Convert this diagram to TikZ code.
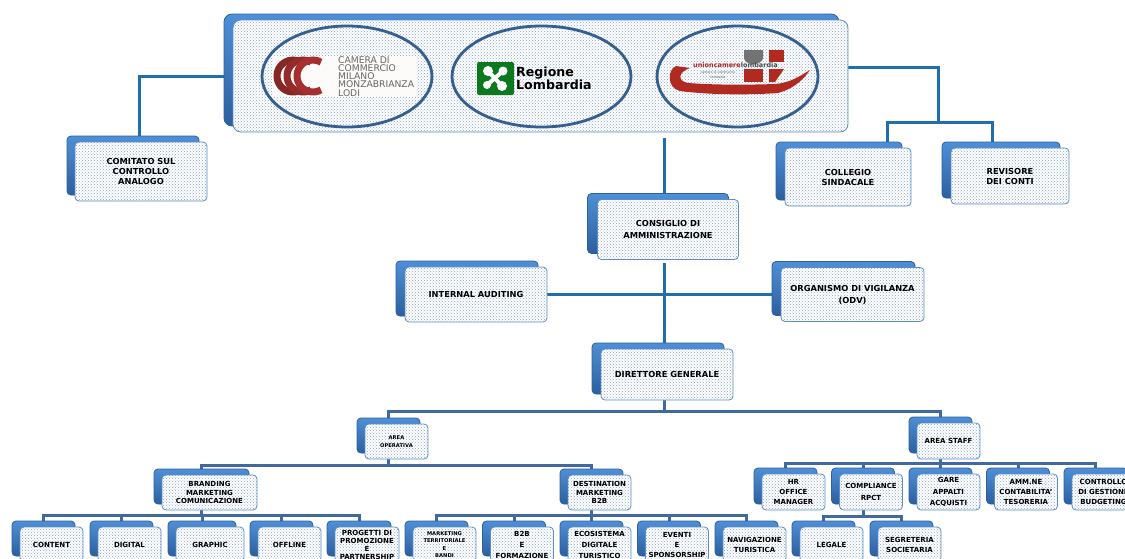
\documentclass[tikz,border=0pt]{standalone}
\usepackage{fontspec}
\setmainfont{DejaVu Sans}
\usetikzlibrary{positioning}
\usetikzlibrary{shapes.geometric}
\usetikzlibrary{shadows}
\usetikzlibrary{patterns}
\usetikzlibrary{backgrounds}
\definecolor{cardline}{HTML}{5B8FC8}
\definecolor{cardtop}{HTML}{4F8FD6}
\definecolor{cardlow}{HTML}{2C5F9E}
\definecolor{dotty}{HTML}{8CA5C6}
\definecolor{mainblue}{HTML}{1F6EAE}
\definecolor{treeblue}{HTML}{41699F}
\definecolor{ringblue}{HTML}{365F91}
\definecolor{cccred}{HTML}{A5302F}
\definecolor{lomgreen}{HTML}{0B7A1E}
\definecolor{ucred}{HTML}{B02A20}
\tikzset{card/.style={copy shadow={shadow xshift=-#1pt,shadow yshift=6pt,top color=cardtop,bottom color=cardlow,draw=cardlow,opacity=1},
preaction={fill=white},pattern=crosshatch dots,pattern color=dotty,draw=cardline,line width=.8pt,
rounded corners=4pt,inner sep=0pt,outer sep=0pt,align=center}, card/.default=9}
\tikzset{txa/.style={font=\fontsize{8.3}{12}\selectfont\bfseries}}
\tikzset{txb/.style={font=\fontsize{8.3}{10}\selectfont\bfseries}}
\tikzset{txc/.style={font=\fontsize{7}{10}\selectfont\bfseries}}
\tikzset{txd/.style={font=\fontsize{5.2}{7.5}\selectfont\bfseries}}
\tikzset{ring/.style={draw=ringblue,ellipse,line width=2.8pt,inner sep=0pt}}
\tikzset{mainline/.style={draw=mainblue,line width=3pt}}
\tikzset{treeline/.style={draw=treeblue,line width=3pt}}
\begin{document}
\begin{tikzpicture}[x=1pt,y=-1pt]
\path[use as bounding box,clip] (0,0) rectangle (1125,558);

\node [card=9,minimum width=615pt,minimum height=112pt,rounded corners=8pt] (top) at(540.5,76) {};
\node [ring,minimum width=170pt,minimum height=101pt] (camera) at(347,76.5) {};
\node [ring,minimum width=179pt,minimum height=101pt] (regione) at(541.5,76.5) {};
\node [ring,minimum width=161pt,minimum height=101pt] (unione) at(737.5,76.5) {};

% camera logo
\fill [white!97!brown] (272,56) rectangle (416,97);
\draw [cccred!80!black,line width=7pt] (293,76) ++(60:16) arc[start angle=60,end angle=300,radius=16];
\draw [cccred!90!black,line width=7pt] (303,76) ++(60:16) arc[start angle=60,end angle=300,radius=16];
\draw [cccred,line width=7pt] (313,76) ++(60:16) arc[start angle=60,end angle=300,radius=16];
\node [anchor=west,inner sep=0pt,align=left,text=black!60,font=\fontsize{9.2}{8.1}\selectfont] (cameratxt) at(338,76.5)
{CAMERA DI\\COMMERCIO\\MILANO\\MONZABRIANZA\\LODI};

% regione logo
\fill [lomgreen,rounded corners=2pt] (477,62) rectangle (514,95);
\draw [white,line width=4pt] (488,71) -- (502,86) (503,71) -- (487,85);
\fill [white] (488,71) circle (5) (503,71) circle (4.5) (487,85) circle (4) (502,86) circle (5);
\node [anchor=west,inner sep=0pt,align=left,font=\fontsize{12.6}{12}\selectfont\bfseries] (regionetxt) at(516,78)
{Regione\\Lombardia};

% unione logo
\fill [ucred] (676,66) .. controls (667,70) and (667,88) .. (680,91) .. controls (710,95) and (750,95) .. (778,93)
.. controls (790,90) and (802,82) .. (810,70) .. controls (800,76) and (790,83) .. (775,84)
.. controls (745,85) and (715,85) .. (688,83) .. controls (677,81) and (678,72) .. (690,68) -- cycle;
\fill [ucred] (744,69) rectangle (763,82);
\fill [ucred] (769,50) -- (784,50) -- (784,62) -- (769,62) -- cycle;
\fill [ucred] (769,69) -- (784,69) -- (775,82) -- (769,82) -- cycle;
\fill [black!55] (744,50) -- (763,50) -- (763,58) .. controls (762,66) and (745,66) .. (744,58) -- cycle;
\node [anchor=west,inner sep=0pt,text=ucred,font=\fontsize{6.5}{8}\selectfont\bfseries] (unionetxt) at(693,65.5) {unioncamere\textcolor{black!70}{lombardia}};
\node [inner sep=0pt,align=center,text=black!60,font=\fontsize{3.2}{5}\selectfont] (unionesub) at(718,74.5) {camere di commercio\\lombarde};

\node [card=8,txb,minimum width=132pt,minimum height=59pt] (comitato) at(141,171.5) {COMITATO SUL\\CONTROLLO\\ANALOGO};
\node [card=9,txb,minimum width=126pt,minimum height=58pt] (collegio) at(848,177) {COLLEGIO\\SINDACALE};
\node [card=9,txb,minimum width=118pt,minimum height=56pt] (revisore) at(1010,176) {REVISORE\\DEI CONTI};
\node [card=10,txa,minimum width=141pt,minimum height=60pt] (consiglio) at(668,229.5) {CONSIGLIO DI\\AMMINISTRAZIONE};
\node [card=9,txa,minimum width=142pt,minimum height=55pt] (internal) at(476,294.5) {INTERNAL AUDITING};
\node [card=9,txa,minimum width=143pt,minimum height=54pt] (odv) at(852.5,294.5) {ORGANISMO DI VIGILANZA\\(ODV)};
\node [card=9,txa,minimum width=132pt,minimum height=51pt] (direttore) at(667,374.5) {DIRETTORE GENERALE};

\node [card=8,txd,minimum width=63pt,minimum height=35pt] (operativa) at(396.5,441.5) {AREA\\OPERATIVA};
\node [card=8,txc,minimum width=63pt,minimum height=36pt] (staff) at(948.5,441) {AREA STAFF};
\node [card=8,txc,minimum width=95pt,minimum height=35pt] (branding) at(209.5,492.5) {BRANDING\\[-1.5pt]MARKETING\\[-1.5pt]COMUNICAZIONE};
\node [card=8,txc,minimum width=63pt,minimum height=35pt] (destination) at(599.5,492.5) {DESTINATION\\[-1.5pt]MARKETING\\[-1.5pt]B2B};

\node [card=8,txc,minimum width=63pt,minimum height=35pt] (content) at(51.5,544.5) {CONTENT};
\node [card=8,txc,minimum width=63pt,minimum height=35pt,right=15pt of content] (digital) {DIGITAL};
\node [card=8,txc,minimum width=68pt,minimum height=35pt,right=15pt of digital] (graphic) {GRAPHIC};
\node [card=8,txc,minimum width=63pt,minimum height=35pt,right=14pt of graphic] (offline) {OFFLINE};
\node [card=8,txc,minimum width=64pt,minimum height=35pt,right=14pt of offline] (progetti) {PROGETTI DI\\[-2pt]PROMOZIONE\\[-2pt]E\\[-2pt]PARTNERSHIP};

\node [card=8,txd,minimum width=63pt,minimum height=35pt] (territorio) at(444.5,544.5) {MARKETING\\TERRITORIALE\\E\\BANDI};
\node [card=8,txc,minimum width=63pt,minimum height=35pt,right=14.5pt of territorio] (btob) {B2B\\[1pt]E\\[1pt]FORMAZIONE};
\node [card=8,txc,minimum width=63pt,minimum height=35pt,right=14.5pt of btob] (ecosistema) {ECOSISTEMA\\[1pt]DIGITALE\\[1pt]TURISTICO};
\node [card=8,txc,minimum width=63pt,minimum height=35pt,right=14.5pt of ecosistema] (eventi) {EVENTI\\E\\SPONSORSHIP};
\node [card=8,txc,minimum width=63pt,minimum height=35pt,right=14.5pt of eventi] (navigazione) {NAVIGAZIONE\\TURISTICA};

\node [card=8,txc,minimum width=63pt,minimum height=36pt] (hr) at(793.5,492) {HR\\OFFICE\\MANAGER};
\node [card=8,txc,minimum width=63pt,minimum height=36pt,right=14.5pt of hr] (compliance) {COMPLIANCE\\[2pt]RPCT};
\node [card=8,txc,minimum width=63pt,minimum height=36pt,right=14.5pt of compliance] (gare) {GARE\\[1.5pt]APPALTI\\[1.5pt]ACQUISTI};
\node [card=8,txc,minimum width=63pt,minimum height=36pt,right=14.5pt of gare] (amm) {AMM.NE\\CONTABILITA'\\TESORERIA};
\node [card=8,txc,minimum width=63pt,minimum height=36pt,right=14.5pt of amm] (controllo) {CONTROLLO\\DI GESTIONE\\BUDGETING};

\node [card=8,txc,minimum width=63pt,minimum height=35pt] (legale) at(831.5,544.5) {LEGALE};
\node [card=8,txc,minimum width=63pt,minimum height=35pt,right=15pt of legale] (segreteria) {SEGRETERIA\\SOCIETARIA};

\coordinate (spine) at(664,230);
\coordinate (bus) at(938,122);

\begin{scope}[on background layer]
\draw [mainline] (top.west) -| ([xshift=-2pt]comitato.north);
\draw [mainline] ([yshift=9pt]top.east) -| (bus);
\draw [mainline] ([xshift=39pt]collegio.north) |- (bus) -| ([xshift=-18pt]revisore.north);
\draw [mainline,shorten <=6pt] (top.south -| spine) -- (consiglio.north -| spine);
\draw [mainline,shorten <=3pt] (consiglio.south -| spine) -- (direttore.north -| spine);
\draw [mainline] (internal.east) -- (odv.west);

\draw [treeline] (direttore.south -| spine) -- ++(0,11) -| ([xshift=-8pt]operativa.north);
\draw [treeline] (direttore.south -| spine) -- ++(0,11) -| ([xshift=-8pt]staff.north);
\foreach \kid in {branding,destination}
  \draw [treeline] ([xshift=-8pt]operativa.south) -- ++(0,6) -| ([xshift=-8pt]\kid.north);
\foreach \kid in {content,digital,graphic,offline,progetti}
  \draw [treeline] ([xshift=-8pt]branding.south) -- ++(0,5) -| ([xshift=-8pt]\kid.north);
\foreach \kid in {territorio,btob,ecosistema,eventi,navigazione}
  \draw [treeline] ([xshift=-8pt]destination.south) -- ++(0,5) -| ([xshift=-8pt]\kid.north);
\foreach \kid in {hr,compliance,gare,amm,controllo}
  \draw [treeline] ([xshift=-8pt]staff.south) -- ++(0,4) -| ([xshift=-8pt]\kid.north);
\foreach \kid in {legale,segreteria}
  \draw [treeline] ([xshift=-8pt]compliance.south) -- ++(0,6) -| ([xshift=-8pt]\kid.north);
\end{scope}
\end{tikzpicture}
\end{document}
